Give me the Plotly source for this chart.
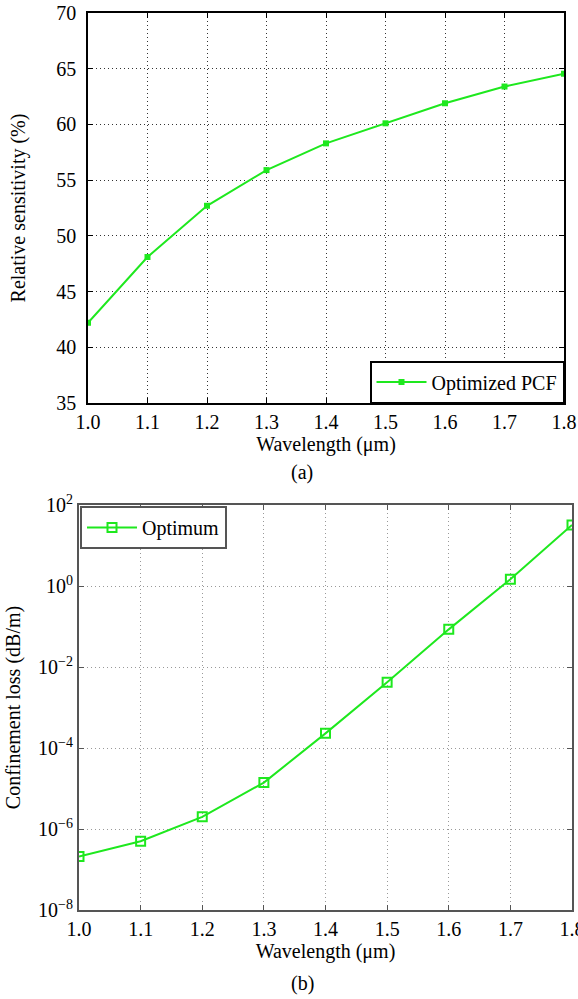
import plotly.graph_objects as go

# ---- data ----
wavelength = [1.0, 1.1, 1.2, 1.3, 1.4, 1.5, 1.6, 1.7, 1.8]
rel_sensitivity = [42.2, 48.1, 52.7, 55.9, 58.3, 60.1, 61.9, 63.4, 64.55]
conf_loss = [2.1e-7, 5.0e-7, 2.0e-6, 1.4e-5, 2.3e-4, 4.2e-3, 8.5e-2, 1.47, 32.0]

x_ticks = [1.0, 1.1, 1.2, 1.3, 1.4, 1.5, 1.6, 1.7, 1.8]
x_ticktext = ["1.0", "1.1", "1.2", "1.3", "1.4", "1.5", "1.6", "1.7", "1.8"]
ya_ticks = [35, 40, 45, 50, 55, 60, 65, 70]
yb_ticks = [1e-8, 1e-6, 1e-4, 1e-2, 1e0, 1e2]
yb_ticktext = ["10<sup>−8</sup>", "10<sup>−6</sup>", "10<sup>−4</sup>",
               "10<sup>−2</sup>", "10<sup>0</sup>", "10<sup>2</sup>"]

FONT = "Liberation Serif, Times New Roman, DejaVu Serif, serif"
GREEN = "#1ee81e"
W, H = 578, 999

fig = go.Figure()

fig.add_trace(go.Scatter(
    x=wavelength, y=rel_sensitivity, mode="lines+markers",
    name="Optimized PCF", showlegend=True,
    line=dict(color=GREEN, width=2),
    marker=dict(symbol="square", size=6, color=GREEN),
    xaxis="x", yaxis="y", legend="legend",
))

fig.add_trace(go.Scatter(
    x=wavelength, y=conf_loss, mode="lines+markers",
    name="Optimum", showlegend=True,
    line=dict(color=GREEN, width=2),
    marker=dict(symbol="square-open", size=9, color=GREEN, line=dict(width=2)),
    xaxis="x2", yaxis="y2", legend="legend2",
))

def px_x(p):
    return p / W

def px_y(p):
    return 1 - p / H

tickfont = dict(family=FONT, size=20, color="black")
titlefont = dict(family=FONT, size=20, color="black")

common_axis = dict(
    showline=True, mirror="ticks", ticks="inside", ticklen=5,
    tickfont=tickfont, zeroline=False, showgrid=True, griddash="1px,3px",
    automargin=False, ticklabeloverflow="allow",
)

fig.update_layout(
    width=W, height=H,
    showlegend=True,
    margin=dict(l=0, r=0, t=0, b=0),
    paper_bgcolor="white", plot_bgcolor="white",
    font=dict(family=FONT, color="black"),
    xaxis=dict(
        domain=[px_x(88), px_x(564)], anchor="y",
        range=[1.0, 1.8], tickvals=x_ticks, ticktext=x_ticktext,
        linecolor="black", linewidth=1.5, tickcolor="black",
        gridcolor="#333333", gridwidth=1,
        title=dict(text="Wavelength (μm)", font=titlefont, standoff=2),
        **common_axis,
    ),
    yaxis=dict(
        domain=[px_y(403), px_y(13)], anchor="x",
        range=[35, 70], tickvals=ya_ticks,
        linecolor="black", linewidth=1.5, tickcolor="black",
        gridcolor="#333333", gridwidth=1,
        title=dict(text="Relative sensitivity (%)", font=titlefont, standoff=25),
        ticklabelstandoff=6,
        **common_axis,
    ),
    xaxis2=dict(
        domain=[px_x(79), px_x(572)], anchor="y2",
        range=[1.0, 1.8], tickvals=x_ticks, ticktext=x_ticktext,
        linecolor="#555555", linewidth=2, tickcolor="#555555",
        gridcolor="#999999", gridwidth=1,
        title=dict(text="Wavelength (μm)", font=titlefont, standoff=2),
        **common_axis,
    ),
    yaxis2=dict(
        domain=[px_y(910), px_y(505)], anchor="x2",
        type="log", range=[-8, 2], tickvals=yb_ticks, ticktext=yb_ticktext,
        linecolor="#555555", linewidth=2, tickcolor="#555555",
        gridcolor="#999999", gridwidth=1,
        title=dict(text="Confinement loss (dB/m)", font=titlefont, standoff=12),
        **common_axis,
    ),
    legend=dict(
        x=px_x(564), y=px_y(403), xanchor="right", yanchor="bottom",
        bordercolor="black", borderwidth=1.5, bgcolor="white",
        font=dict(family=FONT, size=20, color="black"),
        itemwidth=50,
    ),
    legend2=dict(
        x=px_x(80), y=px_y(506), xanchor="left", yanchor="top",
        bordercolor="#555555", borderwidth=2, bgcolor="white",
        font=dict(family=FONT, size=20, color="black"),
        itemwidth=50,
    ),
    annotations=[
        dict(text="(a)", x=px_x(302), y=px_y(472), xref="paper", yref="paper",
             xanchor="center", yanchor="middle",
             showarrow=False, font=dict(family=FONT, size=20, color="black")),
        dict(text="(b)", x=px_x(302), y=px_y(983), xref="paper", yref="paper",
             xanchor="center", yanchor="middle",
             showarrow=False, font=dict(family=FONT, size=20, color="black")),
    ],
)

fig.write_html("out.html")
